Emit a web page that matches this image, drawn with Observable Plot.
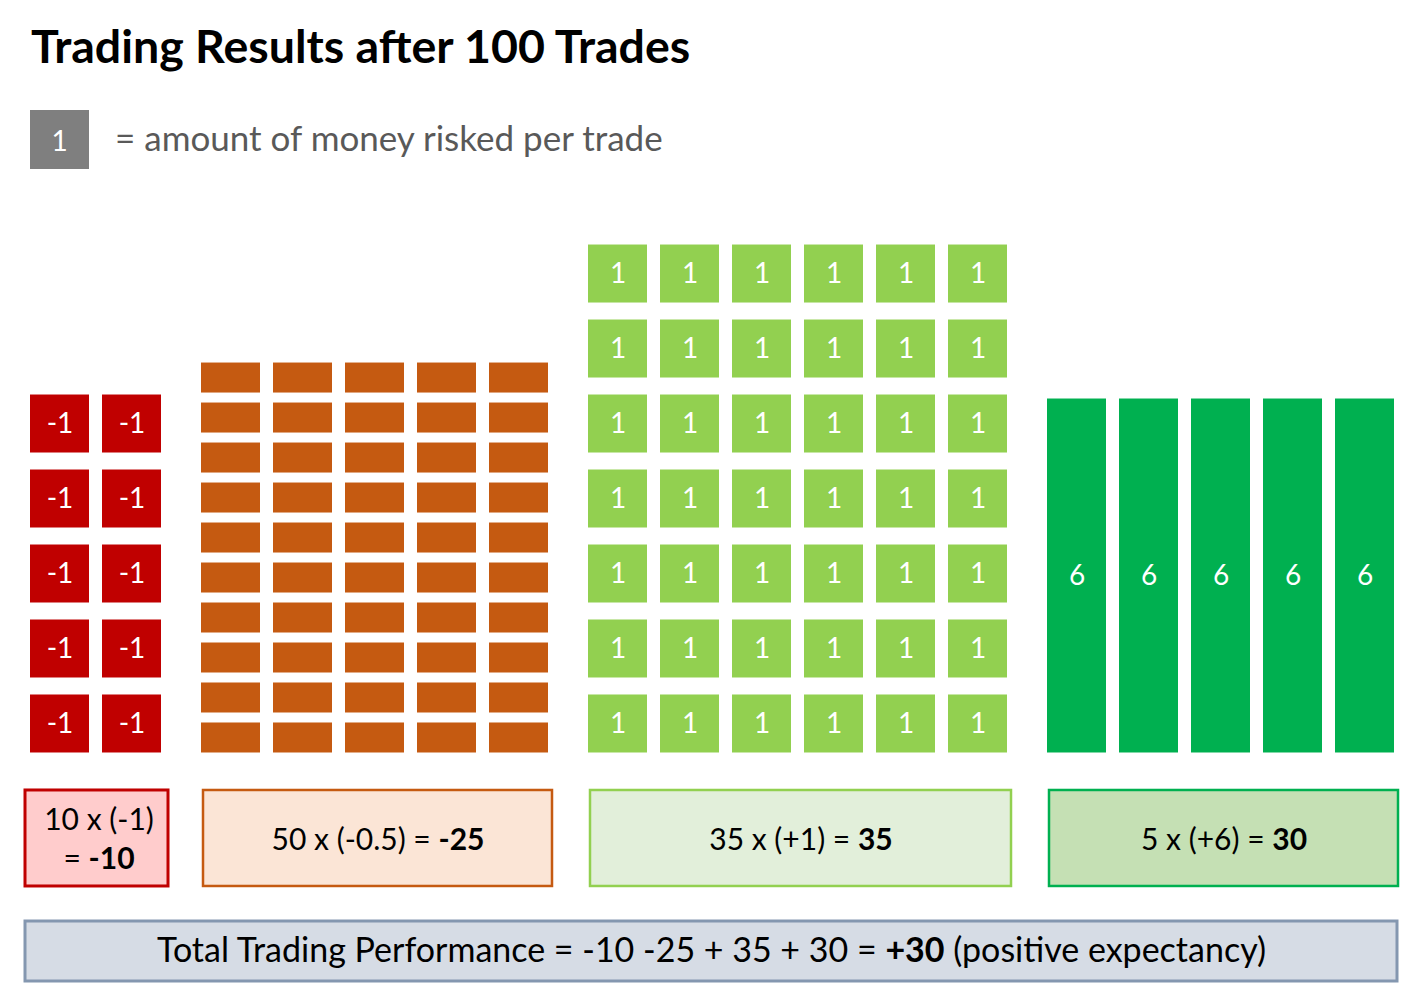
<!DOCTYPE html>
<html>
<head>
<meta charset="utf-8">
<script src="https://cdn.jsdelivr.net/npm/d3@7"></script>
<script src="https://cdn.jsdelivr.net/npm/@observablehq/plot@0.6"></script>
<style>
  html, body { margin: 0; padding: 0; background: #fff; }
  #page { position: relative; width: 1425px; height: 996px; overflow: hidden; font-family: Lato, "Open Sans", sans-serif; }
  #title { position: absolute; left: 31px; top: 22px; font-size: 46.5px; font-weight: bold; line-height: 1; color: #000; white-space: nowrap; }
  #legend-box { position: absolute; left: 30px; top: 110px; width: 59px; height: 59px; background: #7F7F7F; color: #fff; font-size: 28px; display: flex; align-items: center; justify-content: center; }
  #legend-text { position: absolute; left: 115px; top: 120px; font-size: 35px; line-height: 1; color: #595959; white-space: nowrap; }
  #chart { position: absolute; left: 0; top: 200px; }
</style>
</head>
<body>
<div id="page">
  <div id="title"></div>
  <div id="legend-box"></div>
  <div id="legend-text"></div>
  <div id="chart"></div>
</div>
<script>
// ---------- data ----------
const titleText = "Trading Results after 100 Trades";
const legendValue = 1;
const legendText = "= amount of money risked per trade";

const groups = ["Full losses", "Half losses", "Small wins", "Big wins"];
const tradeCounts = [10, 50, 35, 5];
const tradeValues = [-1, -0.5, 1, 6];
// grid of tiles as drawn in the reference
const gridCols = [2, 5, 6, 5];
const gridRows = [5, 10, 7, 1];
const cellLabels = ["-1", "", "1", "6"];
const totalNote = "(positive expectancy)";

// ---------- styles / layout (not data) ----------
const palette = {
  cell: ["#C00000", "#C55A11", "#92D050", "#00B050"],
  boxFill: ["#FFCCCC", "#FBE5D6", "#E2EFDA", "#C5E0B4"],
  boxStroke: ["#C00000", "#C55A11", "#92D050", "#00B050"],
  totalFill: "#D6DCE5",
  totalStroke: "#8497B0"
};
const layout = {
  groupGap: 0.375,
  rowPitch: [1, 0.5333, 1, 5],
  cellHeight: [58 / 75, 30 / 75, 58 / 75, 354 / 75],
  wrap: [true, false, false, false],
  summaryY: [-0.5, -1.78],
  summaryTextY: -1.125,
  totalY: [-2.247, -3.047],
  totalTextY: -2.647
};

document.getElementById("title").textContent = titleText;
document.getElementById("legend-box").textContent = legendValue;
document.getElementById("legend-text").textContent = legendText;

// column start of each group
const colStart = [];
let acc = 0;
groups.forEach((g, i) => { colStart.push(acc + i * layout.groupGap); acc += gridCols[i]; });
const xEnd = colStart[colStart.length - 1] + gridCols[gridCols.length - 1];

const cells = [];
groups.forEach((g, i) => {
  for (let r = 0; r < gridRows[i]; r++) {
    for (let c = 0; c < gridCols[i]; c++) {
      const y1 = r * layout.rowPitch[i];
      cells.push({
        group: g, x1: colStart[i] + c, x2: colStart[i] + c + 1,
        y1, y2: y1 + layout.cellHeight[i],
        fill: palette.cell[i], label: cellLabels[i]
      });
    }
  }
});

const fmt = v => (v > 0 ? "+" : "") + v;
const totals = tradeCounts.map((n, i) => n * tradeValues[i]);
const summaries = groups.map((g, i) => ({
  group: g, idx: i,
  x1: colStart[i], x2: colStart[i] + gridCols[i],
  y1: layout.summaryY[0], y2: layout.summaryY[1], ty: layout.summaryTextY,
  fill: palette.boxFill[i], stroke: palette.boxStroke[i],
  label: `${tradeCounts[i]} x (${fmt(tradeValues[i])})` + (layout.wrap[i] ? "\n" : " ") + `= **${totals[i]}**`
}));
const sum = d3.sum(totals);
const totalLabel = "Total Trading Performance = " +
  totals.map((t, i) => i === 0 ? `${t}` : (t < 0 ? ` ${t}` : ` + ${t}`)).join("") +
  ` = **${fmt(sum)}** ${totalNote}`;
const totalRow = [{x1: 0, x2: xEnd, y1: layout.totalY[0], y2: layout.totalY[1], ty: layout.totalTextY, label: totalLabel}];

const svg = Plot.plot({
  width: 1425,
  height: 796,
  marginLeft: 30,
  marginRight: 18,
  marginTop: 0,
  marginBottom: 0,
  x: {domain: [0, xEnd], axis: null},
  y: {domain: [-3.247, 7.367], axis: null},
  color: {type: "identity"},
  style: {fontFamily: "Lato, 'Open Sans', sans-serif", background: "white", overflow: "visible"},
  marks: [
    Plot.rect(cells, {x1: "x1", x2: "x2", y1: "y1", y2: "y2", fill: "fill", insetRight: 13}),
    Plot.text(cells.filter(d => d.label), {
      x: "x1", y: d => (d.y1 + d.y2) / 2, text: "label", fill: "white", fontSize: 28, dx: 29.5
    }),
    Plot.rect(summaries.filter(d => d.idx === 0), {
      x1: "x1", x2: "x2", y1: "y1", y2: "y2", fill: "fill", stroke: "stroke", strokeWidth: 3,
      insetLeft: -5, insetRight: 6
    }),
    Plot.rect(summaries.filter(d => d.idx !== 0), {
      x1: "x1", x2: "x2", y1: "y1", y2: "y2", fill: "fill", stroke: "stroke", strokeWidth: 2.5,
      insetLeft: 2, insetRight: 9
    }),
    Plot.text(summaries, {
      x: d => (d.x1 + d.x2) / 2, y: "ty", text: "label", fontSize: 30, lineHeight: 1.3,
      dx: -3.5, fill: "#000"
    }),
    Plot.rect(totalRow, {
      x1: "x1", x2: "x2", y1: "y1", y2: "y2", fill: palette.totalFill, stroke: palette.totalStroke,
      strokeWidth: 3, insetLeft: -5, insetRight: 10
    }),
    Plot.text(totalRow, {
      x: d => (d.x1 + d.x2) / 2, y: "ty", text: "label", fontSize: 34, dx: -7.5, fill: "#000"
    })
  ]
});

// render **bold** segments as bold tspans
d3.select(svg).selectAll("text").each(function () {
  const tspans = this.querySelectorAll("tspan");
  const targets = tspans.length ? Array.from(tspans) : [this];
  targets.forEach(el => {
    const s = el.textContent;
    if (!s.includes("**")) return;
    el.textContent = "";
    s.split("**").forEach((part, i) => {
      if (!part) return;
      const ts = document.createElementNS("http://www.w3.org/2000/svg", "tspan");
      if (i % 2) ts.setAttribute("font-weight", "bold");
      ts.textContent = part;
      el.appendChild(ts);
    });
  });
});

document.getElementById("chart").appendChild(svg);
</script>
</body>
</html>
